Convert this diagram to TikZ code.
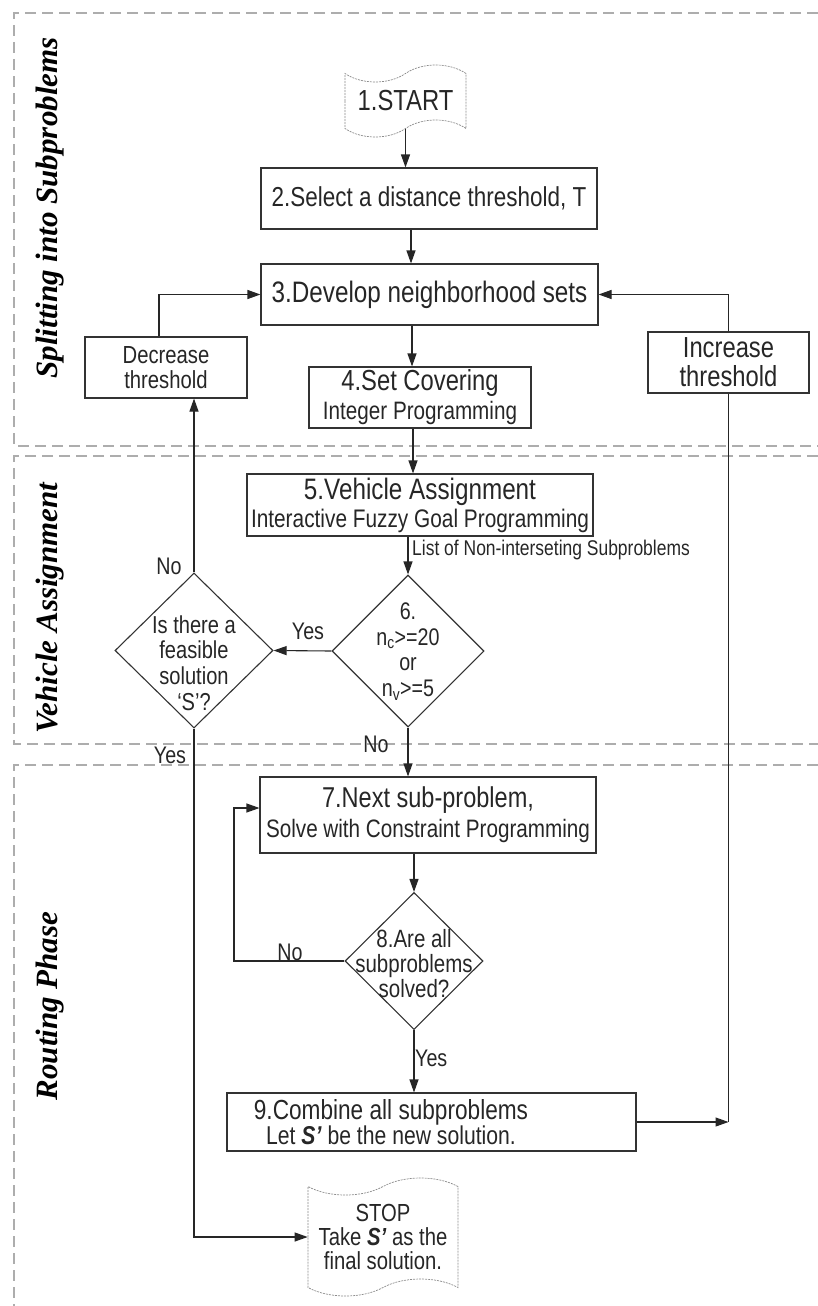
\documentclass[tikz,border=0pt]{standalone}
\usepackage{fontspec}
\setmainfont{Liberation Sans}[FakeStretch=0.82]
\newfontfamily\lanefont{Liberation Serif}[Ligatures={NoCommon}]
\usetikzlibrary{shapes.geometric,shapes.symbols,arrows.meta,calc}
\newcommand{\fs}[2]{\fontsize{#1}{#2}\selectfont}
\begin{document}
\begin{tikzpicture}[x=1pt,y=-1pt,
  box/.style={draw=black!80, line width=1.1pt, rectangle, inner sep=0pt, align=center, text=black!85},
  dia/.style={draw=black!80, line width=1.1pt, diamond, inner sep=0pt},
  tp/.style={tape, draw=black!45, dash pattern=on 2pt off 1pt, line width=0.7pt, inner sep=0pt, align=center, text=black!85, tape bend height=17pt},
  arr/.style={-{Triangle[length=13pt,width=9pt]}, line width=1.1pt, draw=black!85},
  ln/.style={line width=1.1pt, draw=black!85},
  lane/.style={draw=black!32, line width=1.1pt, dash pattern=on 11pt off 6pt},
  lbl/.style={font=\fs{24}{28}, text=black!85, inner sep=0pt, align=center},
  lanelbl/.style={font=\lanefont\bfseries\itshape\fs{31}{32}, rotate=90, inner sep=0pt}
]
\useasboundingbox (0,0) rectangle (818,1306);
% lanes
\draw[lane] (818,13) -- (14,13) -- (14,446) -- (818,446);
\draw[lane] (818,456) -- (14,456) -- (14,744) -- (818,744);
\draw[lane] (818,765) -- (14,765) -- (14,1306);
\node[lanelbl] (l1) at (50,208) {Split\kern0pt ting into Subproblems};
\node[lanelbl] (l2) at (50,608) {Vehicle Assignment};
\node[lanelbl] (l3) at (50,1006) {Routing Phase};
% nodes
\node[tp, minimum width=121pt, minimum height=72pt, font=\fs{29}{30}] (start) at (405.5,101) {1.START};
\node[box, minimum width=336pt, minimum height=61pt, font=\fs{27.4}{30}] (b2) at (429,198.5) {2.Select a distance threshold, T};
\node[box, minimum width=337pt, minimum height=61pt, font=\fs{29.6}{30}] (b3) at (429.5,294.5) {3.Develop neighborhood sets};
\node[box, minimum width=162pt, minimum height=61pt, font=\fs{24.7}{25}] (dec) at (166,367.5) {Decrease\\threshold};
\node[box, minimum width=161pt, minimum height=61pt, font=\fs{29}{29}] (inc) at (728.5,362.5) {Increase\\threshold};
\node[box, minimum width=222pt, minimum height=61pt, font=\fs{25.2}{29}] (b4) at (420,397.5) {{\fs{29}{29}4.Set Covering}\\Integer Programming};
\node[box, minimum width=346pt, minimum height=62pt, font=\fs{25.4}{28}] (b5) at (420,505) {{\fs{29.6}{28}5.Vehicle Assignment}\\Interactive Fuzzy Goal Programming};
\node[dia, minimum width=152pt, minimum height=152pt] (d6) at (408,651) {};
\node[lbl, font=\fs{24}{25.7}] (d6t) at (408,651.5) {6.\\n\textsubscript{c}>=20\\or\\n\textsubscript{v}>=5};
\node[dia, minimum width=158pt, minimum height=155pt] (dF) at (194,650.5) {};
\node[lbl, font=\fs{24.5}{25.7}] (dFt) at (194,663) {Is there a\\feasible\\solution\\`S'?};
\node[box, minimum width=336pt, minimum height=76pt, font=\fs{25.2}{30}] (b7) at (428,815) {{\fs{28.7}{30}7.Next sub-problem,}\\Solve with Constraint Programming};
\node[dia, minimum width=138pt, minimum height=137pt] (d8) at (414,961) {};
\node[lbl, font=\fs{25}{25}] (d8t) at (414,964) {8.Are all\\subproblems\\solved?};
\node[box, minimum width=409pt, minimum height=58pt] (b9) at (431.5,1122) {};
\node[lbl, font=\fs{25.8}{25}] (b9t) at (391,1122.5) {{\fs{27.6}{25}9.Combine all subproblems}\\Let \textbf{\textit{S’}} be the new solution.};
\node[tp, minimum width=150pt, minimum height=118pt, font=\fs{24.7}{24}] (stop) at (383,1237) {STOP\\Take \textbf{\textit{S’}} as the\\final solution.};
% labels
\node[lbl, font=\fs{21.3}{22}, anchor=west] (lst) at (412,550) {List of Non-interseting Subproblems};
\node[lbl] (y6) at (308,631) {Yes};
\node[lbl] (nF) at (169,566) {No};
\node[lbl] (yF) at (170,755) {Yes};
\node[lbl] (n6) at (376,744) {No};
\node[lbl] (n8) at (290,952) {No};
\node[lbl, anchor=west] (y8) at (415,1058) {Yes};
% connectors
\coordinate (lp) at (234,808);
\draw[arr] (start.south) -- (start.south |- b2.north);
\draw[arr] ([xshift=-18pt]b2.south) -- ([xshift=-18pt]b2.south |- b3.north);
\draw[arr] ([xshift=-17.5pt]b3.south) -- ([xshift=-17.5pt]b3.south |- b4.north);
\draw[arr] ([xshift=-7pt]b4.south) -- ([xshift=-7pt]b4.south |- b5.north);
\draw[arr] (d6.north |- b5.south) -- (d6.north);
\draw[arr] (d6.south) -- (d6.south |- b7.north);
\draw[arr] (d8.north |- b7.south) -- (d8.north);
\draw[arr] (d8.south) -- (d8.south |- b9.north);
\draw[arr] ([xshift=-7pt]dec.north) |- (b3.west);
\draw[arr] (inc.north) |- (b3.east);
\draw[arr] (d6.west) -- (dF.east);
\draw[arr] (dF.north) -- (dF.north |- dec.south);
\draw[arr] (dF.south) |- (stop.west);
\draw[arr] (d8.west) -| (lp) -- (lp -| b7.west);
\draw[arr] (b9.east) -- (b9.east -| inc.south);
\draw[ln] (inc.south) -- (inc.south |- b9.east);
\end{tikzpicture}
\end{document}
